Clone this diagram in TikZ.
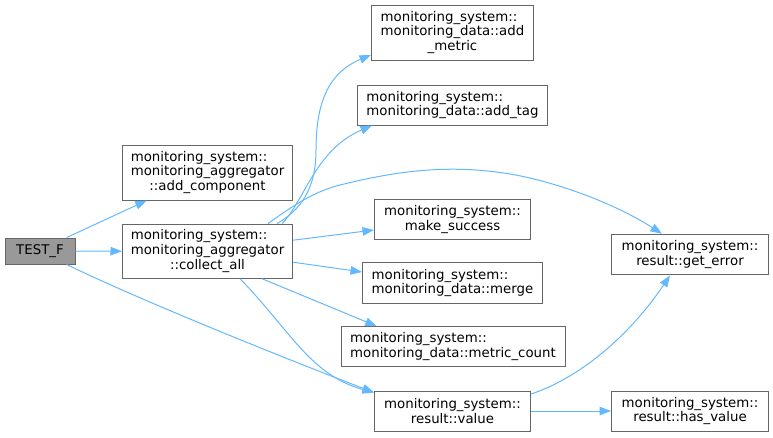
\documentclass[tikz,border=0pt]{standalone}
\usepackage{fontspec}
\setmainfont{DejaVu Sans}
\usetikzlibrary{arrows.meta,calc}
\definecolor{edgec}{HTML}{63B8FF}
\definecolor{bordc}{HTML}{666666}
\definecolor{testc}{HTML}{999999}
\newlength\reflen
\newcommand\leftln[2]{\settowidth{\reflen}{#1}\makebox[\reflen][l]{#2}}
\begin{document}
\begin{tikzpicture}[x=1pt,y=-1pt,
  font=\fontsize{13.33}{14.7}\selectfont,
  box/.style={draw=bordc, line width=1pt, fill=white, inner sep=0pt, align=center, text=black},
  edge/.style={draw=edgec, line width=1pt, -{Triangle[length=11.5pt,width=8.5pt]}}]
\useasboundingbox (0,0) rectangle (773,437);

\node[box, fill=testc, minimum width=70, minimum height=26] (test) at (40,251) {TEST\_F};
\node[box, minimum width=170, minimum height=55] (addcomp) at (207.5,172.5)
  {\leftln{monitoring\_aggregator}{monitoring\_system::}\\monitoring\_aggregator\\::add\_component};
\node[box, minimum width=170, minimum height=54] (collect) at (207.5,251.2)
  {\leftln{monitoring\_aggregator}{monitoring\_system::}\\monitoring\_aggregator\\::collect\_all};
\node[box, minimum width=162, minimum height=55] (addmetric) at (452.5,32.5)
  {\leftln{monitoring\_data::add}{monitoring\_system::}\\monitoring\_data::add\\\_metric};
\node[box, minimum width=190, minimum height=40] (addtag) at (452.5,105)
  {\leftln{monitoring\_data::add\_tag}{monitoring\_system::}\\monitoring\_data::add\_tag};
\node[box, minimum width=156, minimum height=40] (makesucc) at (452.5,219.3)
  {monitoring\_system::\\make\_success};
\node[box, minimum width=180, minimum height=40.6] (merge) at (452.5,283)
  {\leftln{monitoring\_data::merge}{monitoring\_system::}\\monitoring\_data::merge};
\node[box, minimum width=224, minimum height=40] (mcount) at (453,346.7)
  {\leftln{monitoring\_data::metric\_count}{monitoring\_system::}\\monitoring\_data::metric\_count};
\node[box, minimum width=156, minimum height=40] (value) at (452.5,411)
  {monitoring\_system::\\result::value};
\node[box, minimum width=157, minimum height=40.7] (geterror) at (690,254.6)
  {monitoring\_system::\\result::get\_error};
\node[box, minimum width=157, minimum height=40] (hasvalue) at (690,411)
  {monitoring\_system::\\result::has\_value};

% edges from TEST_F
\draw[edge] ($(test.north)+(26.7,0)$) -- ($(addcomp.south)+(-60.8,0)$);
\draw[edge] (test.east) -- (collect.west);
\draw[edge] ($(test.south)+(26.7,0)$) .. controls (150,305) and (310,368) .. ($(value.north west)+(0,2)$);

% edges from collect_all
\draw[edge] ($(collect.north)+(69.5,0)$) .. controls (300,210) and (316,190) .. (316,150)
  .. controls (316,100) and (330,72) .. ($(addmetric.west)+(0,22.5)$);
\draw[edge] ($(collect.north)+(74.5,0)$) .. controls (305,200) and (315,150) .. ($(addtag.south)+(-80.5,0)$);
\draw[edge] ($(collect.north)+(60.5,0)$) .. controls (300,200) and (320,190) .. (340,185)
  .. controls (400,170) and (460,162) .. (530,178)
  .. controls (580,190) and (625,210) .. ($(geterror.north)+(-28,0)$);
\draw[edge] ($(collect.east)+(0,-11)$) -- ($(makesucc.west)+(0,10.7)$);
\draw[edge] ($(collect.east)+(0,11)$) -- ($(merge.west)+(0,-11)$);
\draw[edge] ($(collect.south)+(54.5,0)$) -- ($(mcount.north)+(-76.3,0)$);
\draw[edge] ($(collect.south)+(32.5,0)$) .. controls (290,330) and (310,375) .. ($(value.north west)+(0,2)$);

% edges from value
\draw[edge] ($(value.east)+(0,-17)$) .. controls (580,378) and (630,335) .. ($(geterror.south)+(-20,0)$);
\draw[edge] (value.east) -- (hasvalue.west);
\end{tikzpicture}
\end{document}
